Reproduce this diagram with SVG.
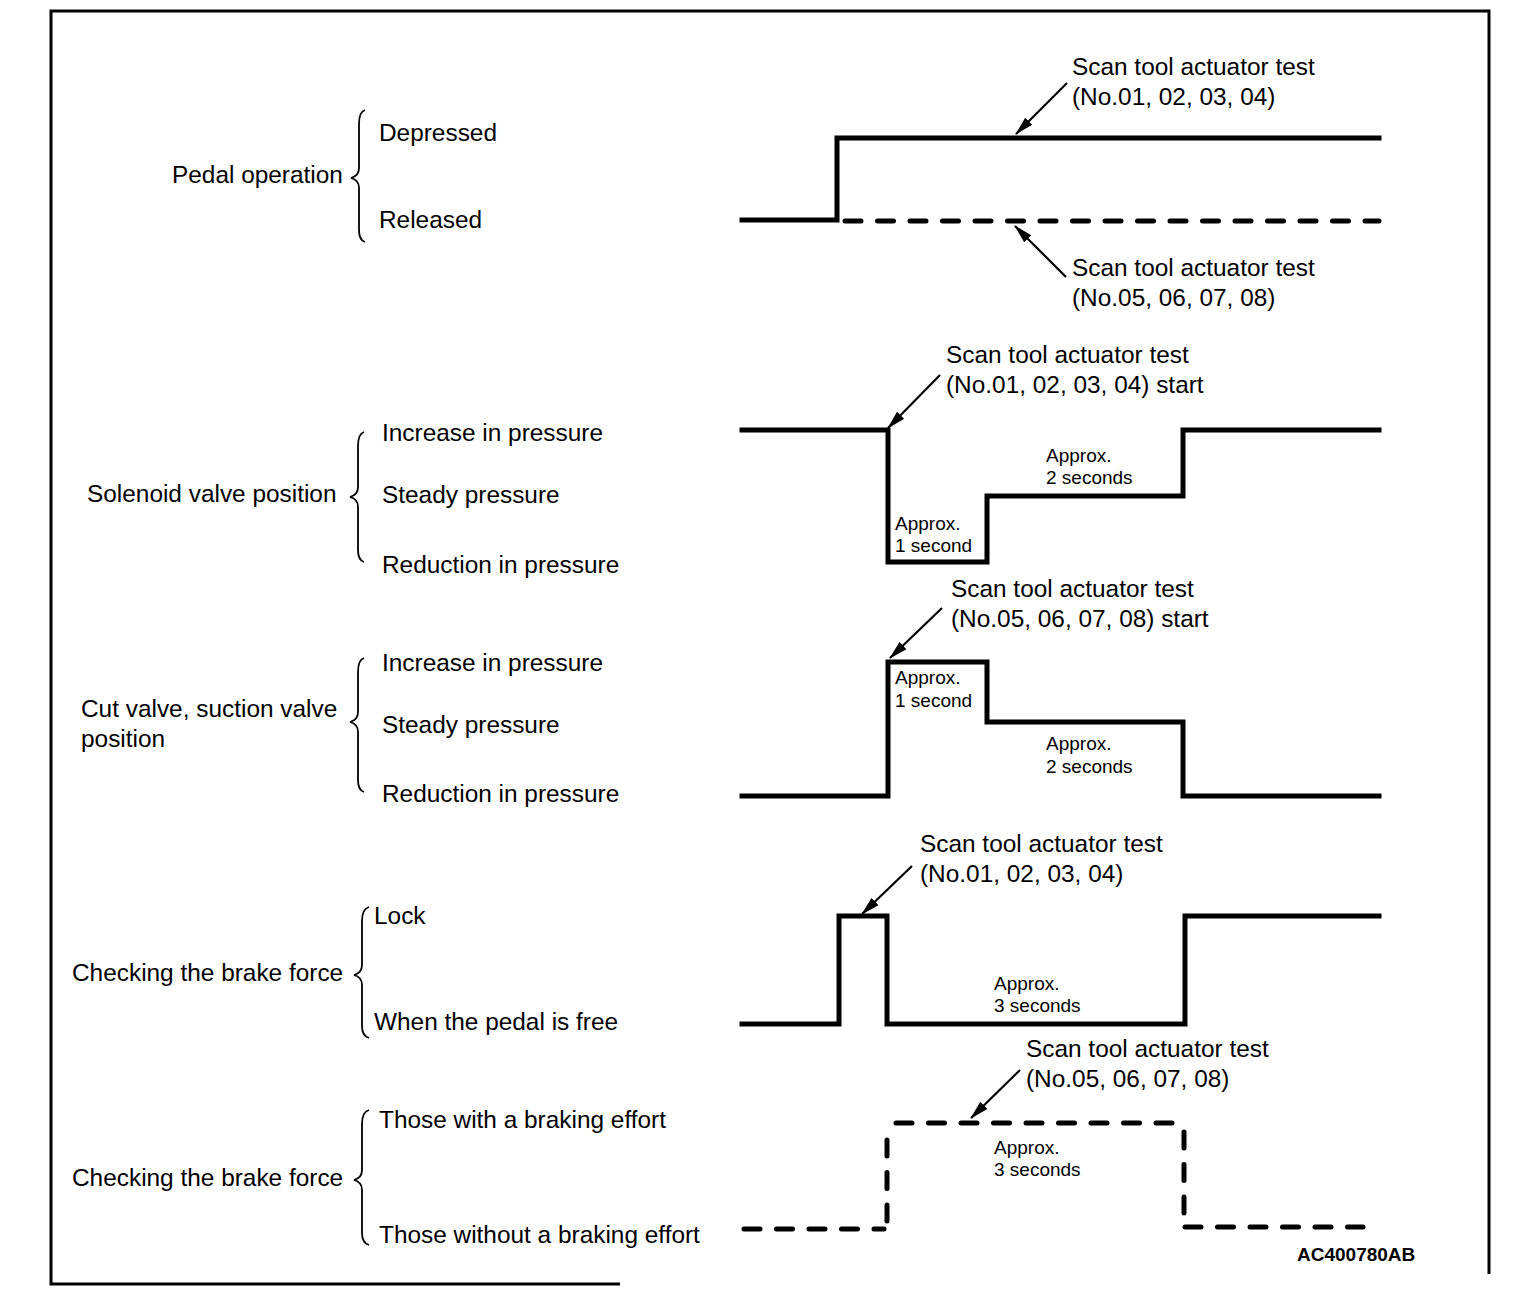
<svg xmlns="http://www.w3.org/2000/svg" width="1536" height="1296" viewBox="0 0 1536 1296">
<style>
text{font-family:"Liberation Sans",Arial,sans-serif;fill:#000}
.t{font-size:24.4px}
.s{font-size:19px}
.b{font-size:19px;font-weight:bold}
.w{fill:none;stroke:#000;stroke-width:5;stroke-linejoin:miter;stroke-linecap:square}
.d{fill:none;stroke:#000;stroke-width:5;stroke-linecap:round;stroke-dasharray:16 16.5}
.br{fill:none;stroke:#000;stroke-width:1.8}
.ar{fill:none;stroke:#000;stroke-width:2.2;marker-end:url(#ah)}
.fr{fill:none;stroke:#000;stroke-width:3}
</style>
<defs>
<marker id="ah" markerUnits="userSpaceOnUse" markerWidth="20" markerHeight="12" refX="18" refY="6" orient="auto" viewBox="0 0 20 12">
<path d="M0,1 L19,6 L0,11 Z" fill="#000"/>
</marker>
</defs>
<rect width="1536" height="1296" fill="#fff"/>
<g id="frame">
<polyline class="fr" points="620,1284 51,1284 51,11 1489,11 1489,1274"/>
</g>

<g id="pedal">
<text class="t" x="172" y="183">Pedal operation</text>
<path class="br" d="M365,110 Q359,112 359,124 L359,168 Q359,176 351,178 Q359,180 359,188 L359,230 Q359,240 365,242"/>
<text class="t" x="379" y="141">Depressed</text>
<text class="t" x="379" y="228">Released</text>
</g>

<g id="solenoid">
<text class="t" x="87" y="502">Solenoid valve position</text>
<path class="br" d="M364,432 Q358,434 358,446 L358,487 Q358,495 350,497 Q358,499 358,507 L358,550 Q358,560 364,562"/>
<text class="t" x="382" y="441">Increase in pressure</text>
<text class="t" x="382" y="503">Steady pressure</text>
<text class="t" x="382" y="573">Reduction in pressure</text>
</g>

<g id="cutvalve">
<text class="t" x="81" y="717">Cut valve, suction valve</text>
<text class="t" x="81" y="747">position</text>
<path class="br" d="M364,658 Q358,660 358,672 L358,712 Q358,720 350,722 Q358,724 358,732 L358,780 Q358,790 364,792"/>
<text class="t" x="382" y="671">Increase in pressure</text>
<text class="t" x="382" y="733">Steady pressure</text>
<text class="t" x="382" y="802">Reduction in pressure</text>
</g>

<g id="brake1">
<text class="t" x="72" y="981">Checking the brake force</text>
<path class="br" d="M369,907 Q362,909 362,921 L362,965 Q362,973 354,975 Q362,977 362,985 L362,1026 Q362,1036 369,1038"/>
<text class="t" x="374" y="924">Lock</text>
<text class="t" x="374" y="1030">When the pedal is free</text>
</g>

<g id="brake2">
<text class="t" x="72" y="1186">Checking the brake force</text>
<path class="br" d="M369,1110 Q362,1112 362,1124 L362,1170 Q362,1178 354,1180 Q362,1182 362,1190 L362,1233 Q362,1243 369,1245"/>
<text class="t" x="379" y="1128">Those with a braking effort</text>
<text class="t" x="379" y="1243">Those without a braking effort</text>
</g>

<g id="waveforms">
<polyline class="w" points="742,220 837,220 837,138 1379,138"/>
<line class="d" x1="845" y1="221" x2="1379" y2="221"/>
<polyline class="w" points="742,430 888,430 888,562 987,562 987,496 1183,496 1183,430 1379,430"/>
<polyline class="w" points="742,796 888,796 888,662 987,662 987,722 1183,722 1183,796 1379,796"/>
<polyline class="w" points="742,1024 839,1024 839,916 887,916 887,1024 1185,1024 1185,916 1379,916"/>
<line class="d" x1="744" y1="1229" x2="884" y2="1229"/>
<line class="d" x1="887" y1="1221" x2="887" y2="1133"/>
<line class="d" x1="896" y1="1123" x2="1176" y2="1123"/>
<line class="d" x1="1184" y1="1132" x2="1184" y2="1218"/>
<line class="d" x1="1185" y1="1227" x2="1363" y2="1227"/>
</g>

<g id="connectors">
<line class="ar" x1="1067" y1="83" x2="1016" y2="134"/>
<line class="ar" x1="1066" y1="277" x2="1015" y2="226"/>
<line class="ar" x1="940" y1="375" x2="888" y2="428"/>
<line class="ar" x1="942" y1="608" x2="890" y2="658"/>
<line class="ar" x1="912" y1="866" x2="862" y2="914"/>
<line class="ar" x1="1020" y1="1070" x2="971" y2="1118"/>
</g>

<g id="callouts">
<text class="t" x="1072" y="75">Scan tool actuator test</text>
<text class="t" x="1072" y="105">(No.01, 02, 03, 04)</text>
<text class="t" x="1072" y="276">Scan tool actuator test</text>
<text class="t" x="1072" y="306">(No.05, 06, 07, 08)</text>
<text class="t" x="946" y="363">Scan tool actuator test</text>
<text class="t" x="946" y="393">(No.01, 02, 03, 04) start</text>
<text class="t" x="951" y="597">Scan tool actuator test</text>
<text class="t" x="951" y="627">(No.05, 06, 07, 08) start</text>
<text class="t" x="920" y="852">Scan tool actuator test</text>
<text class="t" x="920" y="882">(No.01, 02, 03, 04)</text>
<text class="t" x="1026" y="1057">Scan tool actuator test</text>
<text class="t" x="1026" y="1087">(No.05, 06, 07, 08)</text>
</g>

<g id="durations">
<text class="s" x="895" y="530">Approx.</text>
<text class="s" x="895" y="552">1 second</text>
<text class="s" x="1046" y="462">Approx.</text>
<text class="s" x="1046" y="484">2 seconds</text>
<text class="s" x="895" y="684">Approx.</text>
<text class="s" x="895" y="707">1 second</text>
<text class="s" x="1046" y="750">Approx.</text>
<text class="s" x="1046" y="773">2 seconds</text>
<text class="s" x="994" y="990">Approx.</text>
<text class="s" x="994" y="1012">3 seconds</text>
<text class="s" x="994" y="1154">Approx.</text>
<text class="s" x="994" y="1176">3 seconds</text>
</g>

<text class="b" x="1297" y="1261">AC400780AB</text>
</svg>
